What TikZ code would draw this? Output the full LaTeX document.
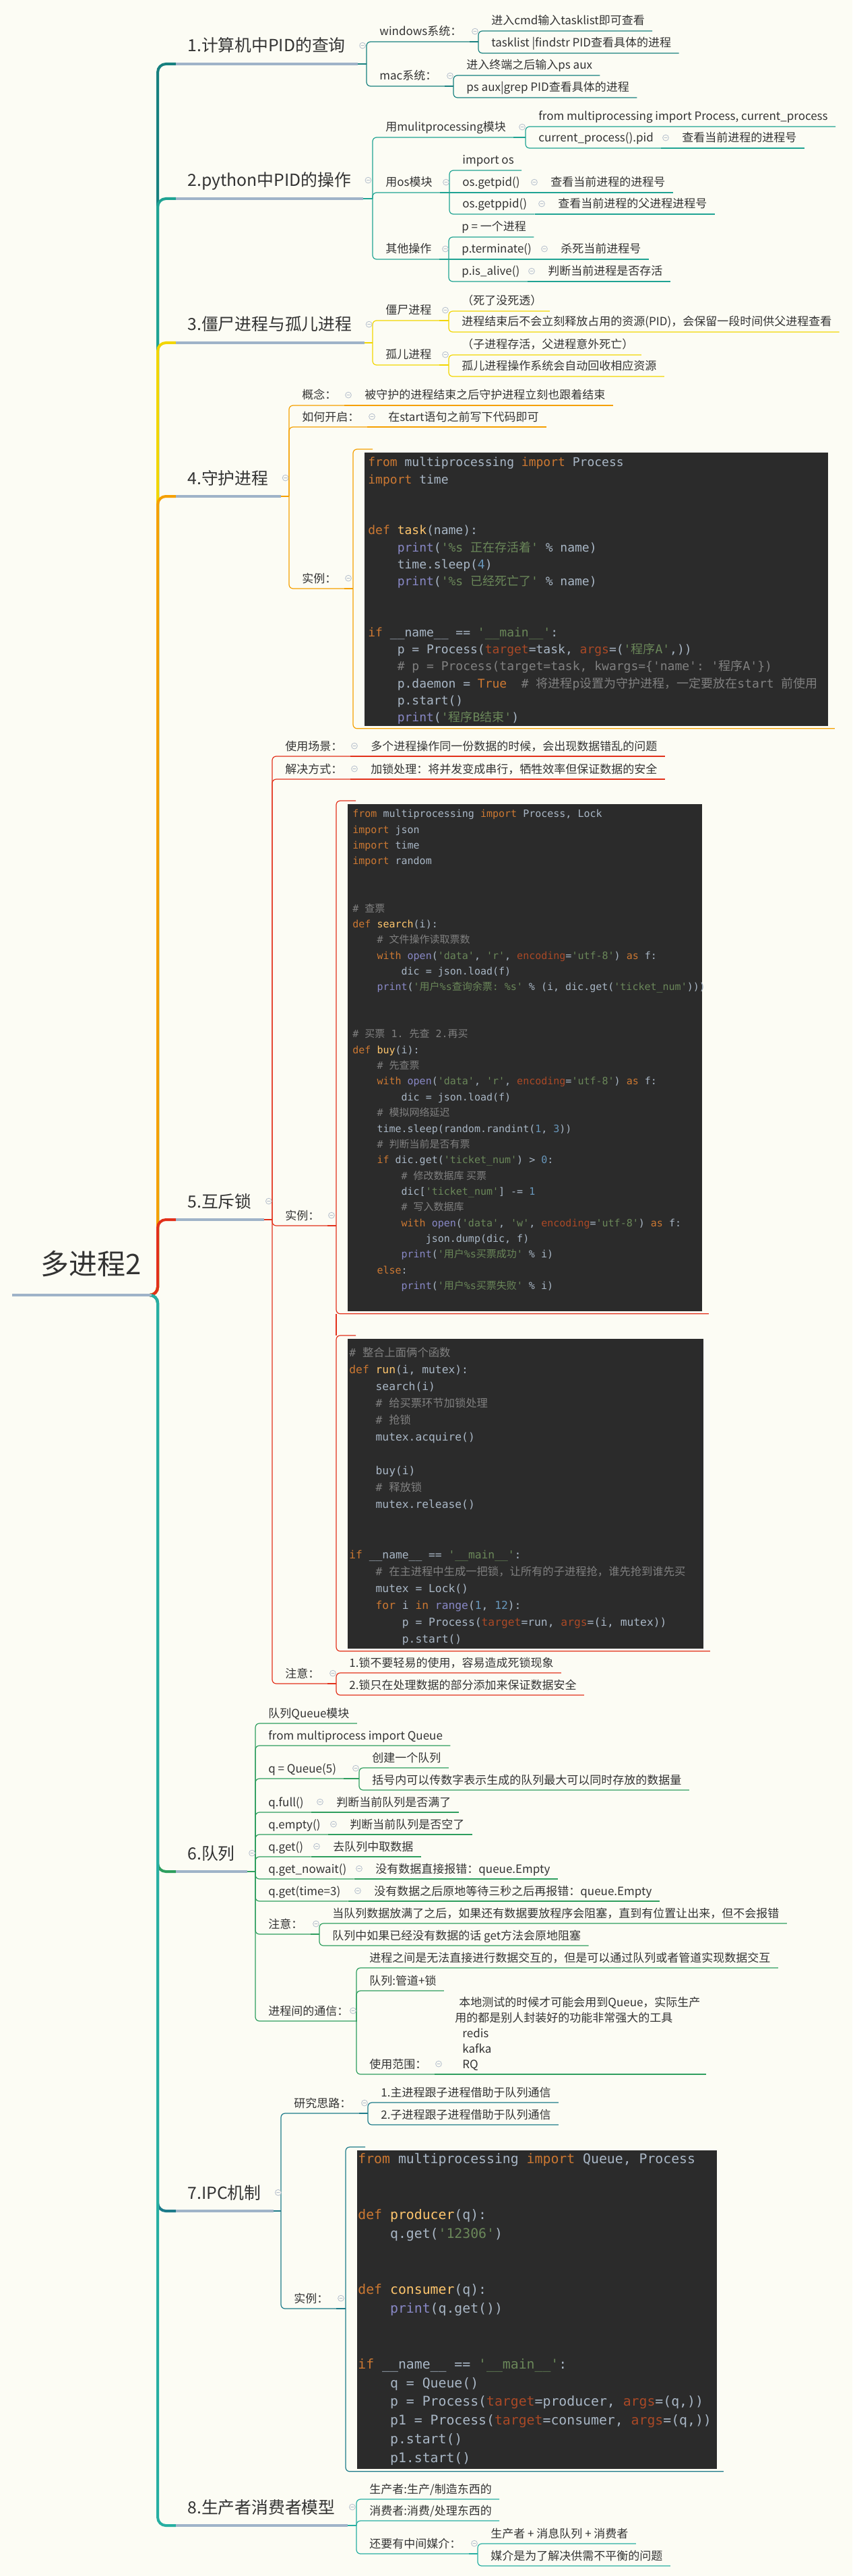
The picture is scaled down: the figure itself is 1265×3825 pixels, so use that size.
\documentclass[tikz,border=0pt]{standalone}
\usepackage{fontspec}
\setmainfont{Noto Sans CJK SC}
\newfontfamily\zhfont{Noto Sans CJK SC}
\newfontfamily\codefont{DejaVu Sans Mono}
\usepackage{xcolor}
\usetikzlibrary{calc}

\definecolor{bgc}{HTML}{FCFCF4}
\definecolor{txtc}{HTML}{333333}
\definecolor{tbarc}{HTML}{9FB3C8}
\definecolor{foldc}{HTML}{B4BECC}
\definecolor{b1c}{HTML}{17807F}
\definecolor{b2c}{HTML}{1FA393}
\definecolor{b3c}{HTML}{F2D600}
\definecolor{b4c}{HTML}{F5A000}
\definecolor{b5c}{HTML}{E2301A}
\definecolor{b6c}{HTML}{2E9E5E}
\definecolor{b7c}{HTML}{1D7B8A}
\definecolor{b8c}{HTML}{27AFA2}
\definecolor{codebgc}{HTML}{2B2B2B}
\definecolor{ctext}{HTML}{A9B7C6}
\definecolor{ckw}{HTML}{CC7832}
\definecolor{cfn}{HTML}{FFC66D}
\definecolor{cstr}{HTML}{6A8759}
\definecolor{cbi}{HTML}{8888C6}
\definecolor{ccm}{HTML}{808080}
\definecolor{ckv}{HTML}{AA4926}
\definecolor{cnum}{HTML}{6897BB}

% code helpers
\newcommand\zh[1]{{\zhfont #1}}
\newcommand\q{\textquotesingle}
\newcommand\indt{\phantom{xxxx}}
\newcommand\cKw[1]{\textcolor{ckw}{#1}}
\newcommand\cFn[1]{\textcolor{cfn}{#1}}
\newcommand\cStr[1]{\textcolor{cstr}{#1}}
\newcommand\cBi[1]{\textcolor{cbi}{#1}}
\newcommand\cCm[1]{\textcolor{ccm}{#1}}
\newcommand\cKv[1]{\textcolor{ckv}{#1}}
\newcommand\cNum[1]{\textcolor{cnum}{#1}}
\newcommand\codeA{\codefont\fontsize{9}{12.63}\selectfont\frenchspacing}
\newcommand\codeB{\codefont\fontsize{7.5}{11.68}\selectfont\frenchspacing}
\newcommand\codeC{\codefont\fontsize{8.15}{12.5}\selectfont\frenchspacing}
\newcommand\codeD{\codefont\fontsize{9.9}{13.87}\selectfont\frenchspacing}

\tikzset{
  rootnode/.style={anchor=south west, inner xsep=0pt, inner ysep=0pt, text=txtc,
    font=\fontsize{21}{25}\selectfont, text height=31pt, text depth=15pt,
    execute at begin node={\hspace*{21pt}}, execute at end node={\hspace*{7.5pt}}},
  topic/.style={anchor=south west, inner xsep=0pt, inner ysep=0pt, text=txtc,
    font=\fontsize{12.4}{14}\selectfont, text height=18.2pt, text depth=8.8pt,
    execute at begin node={\hspace*{8.5pt}}, execute at end node={\hspace*{9pt}}},
  lv/.style={anchor=south west, inner xsep=0pt, inner ysep=0pt, text=txtc,
    font=\fontsize{8.5}{10}\selectfont, text height=10.7pt, text depth=4.3pt,
    execute at begin node={\hspace*{9.5pt}}, execute at end node={\hspace*{5.5pt}}},
  lvm/.style={anchor=south west, inner xsep=4pt, inner ysep=0pt, text=txtc, align=left,
    font=\fontsize{8.5}{11.5}\selectfont, text depth=4.3pt},
  codebg/.style={anchor=north west, fill=codebgc, inner sep=0pt},
  codetxt/.style={anchor=north west, inner sep=0pt, align=left, text=ctext},
  trunk/.style={line width=2pt, rounded corners=6pt},
  tbar/.style={draw=tbarc, line width=1.8pt},
  rootbar/.style={draw=tbarc, line width=2.2pt},
  link/.style={line width=0.6pt},
  foldmark/.style={draw=foldc, fill=bgc, line width=0.4pt}
}

% connectors
\newcommand\joinnode[3]{%
  \draw[link,#1] (#2.south east) -- (#3.south west |- #2.south east);
  \draw[link,#1,rounded corners=3pt] (#3.south west |- #2.south east) -- (#3.south west) -- (#3.south east);}
\newcommand\joinflat[3]{\draw[link,#1] (#2.south east) -- (#3.south east);}
\newcommand\joincode[3]{%
  \draw[link,#1] (#2.south east) -- ($(#3.west |- #2.south east)+(-17,0)$);
  \draw[link,#1,rounded corners=3pt] ($(#3.north west)+(12,-5)$) -- ($(#3.north west)+(-17,-5)$)
    -- ($(#3.south west)+(-17,3)$) -- ($(#3.south east)+(9,3)$);}
\newcommand\foldat[1]{\draw[foldmark] #1 circle[radius=2.2pt] ++(-1.2pt,0) -- ++(2.4pt,0);}
\newcommand\foldon[2]{\foldat{($(#2.south west |- #1.east)+(-5,0)$)}}

\begin{document}
\begin{tikzpicture}[x=0.5pt,y=-0.5pt]
\useasboundingbox (0,0) rectangle (1265,3825);
\fill[bgc] (0,0) rectangle (1265,3825);

\node[rootnode] (root) at (18,1923) {多进程2};

% 1
\node[topic] (t1) at (261,95) {1.计算机中PID的查询};
\node[lv] (win) at (544,62) {windows系统：};
\node[lv] (w1) at (710,46) {进入cmd输入tasklist即可查看};
\node[lv] (w2) at (710,79) {tasklist |findstr PID查看具体的进程};
\node[lv] (mac) at (544,128) {mac系统：};
\node[lv] (m1) at (673,112) {进入终端之后输入ps aux};
\node[lv] (m2) at (673,145) {ps aux|grep PID查看具体的进程};

% 2
\node[topic] (t2) at (261,295) {2.python中PID的操作};
\node[lv] (mp) at (553,204) {用mulitprocessing模块};
\node[lv] (mp1) at (780,188) {from multiprocessing import Process, current\_process};
\node[lv] (mp2) at (780,220) {current\_process().pid};
\node[lv] (mp3) at (993,220) {查看当前进程的进程号};
\node[lv] (os) at (553,286) {用os模块};
\node[lv] (os1) at (667,253) {import os};
\node[lv] (os2) at (667,286) {os.getpid()};
\node[lv] (os2a) at (798,286) {查看当前进程的进程号};
\node[lv] (os3) at (667,318) {os.getppid()};
\node[lv] (os3a) at (809,318) {查看当前进程的父进程进程号};
\node[lv] (ot) at (553,385) {其他操作};
\node[lv] (ot1) at (666,352) {p = 一个进程};
\node[lv] (ot2) at (666,385) {p.terminate()};
\node[lv] (ot2a) at (813,385) {杀死当前进程号};
\node[lv] (ot3) at (666,418) {p.is\_alive()};
\node[lv] (ot3a) at (794,418) {判断当前进程是否存活};

% 3
\node[topic] (t3) at (261,509) {3.僵尸进程与孤儿进程};
\node[lv] (js) at (553,476) {僵尸进程};
\node[lv] (js1) at (666,462) {（死了没死透）};
\node[lv] (js2) at (666,493) {进程结束后不会立刻释放占用的资源(PID)，会保留一段时间供父进程查看};
\node[lv] (ge) at (553,542) {孤儿进程};
\node[lv] (ge1) at (666,527) {（子进程存活，父进程意外死亡）};
\node[lv] (ge2) at (666,559) {孤儿进程操作系统会自动回收相应资源};

% 4
\node[topic] (t4) at (261,737) {4.守护进程};
\node[lv] (gn) at (429,602) {概念：};
\node[lv] (gn1) at (522,602) {被守护的进程结束之后守护进程立刻也跟着结束};
\node[lv] (kq) at (429,634) {如何开启：};
\node[lv] (kq1) at (557,634) {在start语句之前写下代码即可};
\node[lv] (sl4) at (429,874) {实例：};
\node[codebg, minimum width=344pt, minimum height=203pt] (img1) at (541,672) {};
\node[codetxt, font=\codeA] (code1) at (546,674.7) {\strut\cKw{from} multiprocessing \cKw{import} Process\\
\cKw{import} time\\ ~\\ ~\\
\cKw{def} \cFn{task}(name):\\
\indt\cBi{print}(\cStr{\q\%s \zh{正在存活着}\q} \% name)\\
\indt time.sleep(\cNum{4})\\
\indt\cBi{print}(\cStr{\q\%s \zh{已经死亡了}\q} \% name)\\ ~\\ ~\\
\cKw{if} \_\_name\_\_ == \cStr{\q\_\_main\_\_\q}:\\
\indt p = Process(\cKv{target}=task, \cKv{args}=(\cStr{\q\zh{程序}A\q},))\\
\indt\cCm{\# p = Process(target=task, kwargs=\{\q name\q: \q\zh{程序}A\q\})}\\
\indt p.daemon = \cKw{True}\ \ \cCm{\# \zh{将进程}p\zh{设置为守护进程，一定要放在}start \zh{前使用}}\\
\indt p.start()\\
\indt\cBi{print}(\cStr{\q\zh{程序}B\zh{结束}\q})};

% 5
\node[topic] (t5) at (261,1811) {5.互斥锁};
\node[lv] (cj) at (404,1123) {使用场景：};
\node[lv] (cj1) at (531,1123) {多个进程操作同一份数据的时候，会出现数据错乱的问题};
\node[lv] (jj) at (404,1157) {解决方式：};
\node[lv] (jj1) at (531,1157) {加锁处理：将并发变成串行，牺牲效率但保证数据的安全};
\node[lv] (sl5) at (404,1820) {实例：};
\node[codebg, minimum width=263pt, minimum height=376.5pt] (img2) at (516,1194) {};
\node[codetxt, font=\codeB] (code2) at (523,1197.1) {\strut\cKw{from} multiprocessing \cKw{import} Process, Lock\\
\cKw{import} json\\
\cKw{import} time\\
\cKw{import} random\\ ~\\ ~\\
\cCm{\# \zh{查票}}\\
\cKw{def} \cFn{search}(i):\\
\indt\cCm{\# \zh{文件操作读取票数}}\\
\indt\cKw{with} \cBi{open}(\cStr{\q data\q}, \cStr{\q r\q}, \cKv{encoding}=\cStr{\q utf-8\q}) \cKw{as} f:\\
\indt\indt dic = json.load(f)\\
\indt\cBi{print}(\cStr{\q\zh{用户}\%s\zh{查询余票}: \%s\q} \% (i, dic.get(\cStr{\q ticket\_num\q})))\\ ~\\ ~\\
\cCm{\# \zh{买票} 1. \zh{先查} 2.\zh{再买}}\\
\cKw{def} \cFn{buy}(i):\\
\indt\cCm{\# \zh{先查票}}\\
\indt\cKw{with} \cBi{open}(\cStr{\q data\q}, \cStr{\q r\q}, \cKv{encoding}=\cStr{\q utf-8\q}) \cKw{as} f:\\
\indt\indt dic = json.load(f)\\
\indt\cCm{\# \zh{模拟网络延迟}}\\
\indt time.sleep(random.randint(\cNum{1}, \cNum{3}))\\
\indt\cCm{\# \zh{判断当前是否有票}}\\
\indt\cKw{if} dic.get(\cStr{\q ticket\_num\q}) > \cNum{0}:\\
\indt\indt\cCm{\# \zh{修改数据库 买票}}\\
\indt\indt dic[\cStr{\q ticket\_num\q}] -= \cNum{1}\\
\indt\indt\cCm{\# \zh{写入数据库}}\\
\indt\indt\cKw{with} \cBi{open}(\cStr{\q data\q}, \cStr{\q w\q}, \cKv{encoding}=\cStr{\q utf-8\q}) \cKw{as} f:\\
\indt\indt\indt json.dump(dic, f)\\
\indt\indt\cBi{print}(\cStr{\q\zh{用户}\%s\zh{买票成功}\q} \% i)\\
\indt\cKw{else}:\\
\indt\indt\cBi{print}(\cStr{\q\zh{用户}\%s\zh{买票失败}\q} \% i)\\ ~};
\node[codebg, minimum width=264pt, minimum height=230pt] (img3) at (516,1988) {};
\node[codetxt, font=\codeC] (code3) at (518,1996.4) {\strut\cCm{\# \zh{整合上面俩个函数}}\\
\cKw{def} \cFn{run}(i, mutex):\\
\indt search(i)\\
\indt\cCm{\# \zh{给买票环节加锁处理}}\\
\indt\cCm{\# \zh{抢锁}}\\
\indt mutex.acquire()\\ ~\\
\indt buy(i)\\
\indt\cCm{\# \zh{释放锁}}\\
\indt mutex.release()\\ ~\\ ~\\
\cKw{if} \_\_name\_\_ == \cStr{\q\_\_main\_\_\q}:\\
\indt\cCm{\# \zh{在主进程中生成一把锁，让所有的子进程抢，谁先抢到谁先买}}\\
\indt mutex = Lock()\\
\indt\cKw{for} i \cKw{in} \cBi{range}(\cNum{1}, \cNum{12}):\\
\indt\indt p = Process(\cKv{target}=run, \cKv{args}=(i, mutex))\\
\indt\indt p.start()};
\node[lv] (zy5) at (404,2500) {注意：};
\node[lv] (zy51) at (499,2484) {1.锁不要轻易的使用，容易造成死锁现象};
\node[lv] (zy52) at (499,2517) {2.锁只在处理数据的部分添加来保证数据安全};

% 6
\node[topic] (t6) at (261,2779) {6.队列};
\node[lv] (qm) at (379,2559) {队列Queue模块};
\node[lv] (qi) at (379,2592) {from multiprocess import Queue};
\node[lv] (qq) at (379,2641) {q = Queue(5)};
\node[lv] (qq1) at (533,2625) {创建一个队列};
\node[lv] (qq2) at (533,2658) {括号内可以传数字表示生成的队列最大可以同时存放的数据量};
\node[lv] (qf) at (379,2691) {q.full()};
\node[lv] (qf1) at (480,2691) {判断当前队列是否满了};
\node[lv] (qe) at (379,2724) {q.empty()};
\node[lv] (qe1) at (500,2724) {判断当前队列是否空了};
\node[lv] (qg) at (379,2757) {q.get()};
\node[lv] (qg1) at (475,2757) {去队列中取数据};
\node[lv] (qn) at (379,2790) {q.get\_nowait()};
\node[lv] (qn1) at (538,2790) {没有数据直接报错：queue.Empty};
\node[lv] (qt) at (379,2823) {q.get(time=3)};
\node[lv] (qt1) at (536,2823) {没有数据之后原地等待三秒之后再报错：queue.Empty};
\node[lv] (zy6) at (379,2872) {注意：};
\node[lv] (zy61) at (474,2856) {当队列数据放满了之后，如果还有数据要放程序会阻塞，直到有位置让出来，但不会报错};
\node[lv] (zy62) at (474,2889) {队列中如果已经没有数据的话 get方法会原地阻塞};
\node[lv] (tx) at (379,3001) {进程间的通信：};
\node[lv] (tx1) at (529,2922) {进程之间是无法直接进行数据交互的，但是可以通过队列或者管道实现数据交互};
\node[lv] (tx2) at (529,2956) {队列:管道+锁};
\node[lv] (tx3) at (529,3080) {使用范围：};
\node[lvm] (tx3a) at (667,3080) {\hspace*{3pt}本地测试的时候才可能会用到Queue，实际生产\\
用的都是别人封装好的功能非常强大的工具\\
\hspace*{5.5pt}redis\\
\hspace*{5.5pt}kafka\\
\hspace*{5.5pt}RQ};

% 7
\node[topic] (t7) at (261,3283) {7.IPC机制};
\node[lv] (yj) at (417,3138) {研究思路：};
\node[lv] (yj1) at (546,3122) {1.主进程跟子进程借助于队列通信};
\node[lv] (yj2) at (546,3155) {2.子进程跟子进程借助于队列通信};
\node[lv] (sl7) at (417,3428) {实例：};
\node[codebg, minimum width=267pt, minimum height=236.5pt] (img4) at (530,3193) {};
\node[codetxt, font=\codeD] (code4) at (531,3192.5) {\strut\cKw{from} multiprocessing \cKw{import} Queue, Process\\ ~\\ ~\\
\cKw{def} \cFn{producer}(q):\\
\indt q.get(\cStr{\q 12306\q})\\ ~\\ ~\\
\cKw{def} \cFn{consumer}(q):\\
\indt\cBi{print}(q.get())\\ ~\\ ~\\
\cKw{if} \_\_name\_\_ == \cStr{\q\_\_main\_\_\q}:\\
\indt q = Queue()\\
\indt p = Process(\cKv{target}=producer, \cKv{args}=(q,))\\
\indt p1 = Process(\cKv{target}=consumer, \cKv{args}=(q,))\\
\indt p.start()\\
\indt p1.start()};

% 8
\node[topic] (t8) at (261,3750) {8.生产者消费者模型};
\node[lv] (sc) at (529,3711) {生产者:生产/制造东西的};
\node[lv] (xf) at (529,3743) {消费者:消费/处理东西的};
\node[lv] (mj) at (529,3792) {还要有中间媒介：};
\node[lv] (mj1) at (709,3777) {生产者 + 消息队列 + 消费者};
\node[lv] (mj2) at (709,3810) {媒介是为了解决供需不平衡的问题};

% trunk from the root to every topic
\draw[trunk,b1c] (root.south east) -- ++(9,0) |- (t1.south west);
\draw[trunk,b2c] (root.south east) -- ++(9,0) |- (t2.south west);
\draw[trunk,b3c] (root.south east) -- ++(9,0) |- (t3.south west);
\draw[trunk,b4c] (root.south east) -- ++(9,0) |- (t4.south west);
\draw[trunk,b5c] (root.south east) -- ++(9,0) |- (t5.south west);
\draw[trunk,b6c] (root.south east) -- ++(9,0) |- (t6.south west);
\draw[trunk,b7c] (root.south east) -- ++(9,0) |- (t7.south west);
\draw[trunk,b8c] (root.south east) -- ++(9,0) |- (t8.south west);
\draw[rootbar] (root.south west) -- (root.south east);
\draw[tbar] (t1.south west) -- (t1.south east);
\draw[tbar] (t2.south west) -- (t2.south east);
\draw[tbar] (t3.south west) -- (t3.south east);
\draw[tbar] (t4.south west) -- (t4.south east);
\draw[tbar] (t5.south west) -- (t5.south east);
\draw[tbar] (t6.south west) -- (t6.south east);
\draw[tbar] (t7.south west) -- (t7.south east);
\draw[tbar] (t8.south west) -- (t8.south east);

% branch 1
\joinnode{b1c}{t1}{win} \joinnode{b1c}{t1}{mac}
\joinnode{b1c}{win}{w1} \joinnode{b1c}{win}{w2}
\joinnode{b1c}{mac}{m1} \joinnode{b1c}{mac}{m2}
% branch 2
\joinnode{b2c}{t2}{mp} \joinnode{b2c}{t2}{os} \joinnode{b2c}{t2}{ot}
\joinnode{b2c}{mp}{mp1} \joinnode{b2c}{mp}{mp2} \joinflat{b2c}{mp2}{mp3}
\joinnode{b2c}{os}{os1} \joinflat{b2c}{os}{os2} \joinnode{b2c}{os}{os3}
\joinflat{b2c}{os2}{os2a} \joinflat{b2c}{os3}{os3a}
\joinnode{b2c}{ot}{ot1} \joinflat{b2c}{ot}{ot2} \joinnode{b2c}{ot}{ot3}
\joinflat{b2c}{ot2}{ot2a} \joinflat{b2c}{ot3}{ot3a}
% branch 3
\joinnode{b3c}{t3}{js} \joinnode{b3c}{t3}{ge}
\joinnode{b3c}{js}{js1} \joinnode{b3c}{js}{js2}
\joinnode{b3c}{ge}{ge1} \joinnode{b3c}{ge}{ge2}
% branch 4
\joinnode{b4c}{t4}{gn} \joinnode{b4c}{t4}{kq} \joinnode{b4c}{t4}{sl4}
\joinflat{b4c}{gn}{gn1} \joinflat{b4c}{kq}{kq1}
\joincode{b4c}{sl4}{img1}
% branch 5
\joinnode{b5c}{t5}{cj} \joinnode{b5c}{t5}{jj} \joinnode{b5c}{t5}{sl5} \joinnode{b5c}{t5}{zy5}
\joinflat{b5c}{cj}{cj1} \joinflat{b5c}{jj}{jj1}
\joincode{b5c}{sl5}{img2} \joincode{b5c}{sl5}{img3}
\draw[link,b5c] ($(img2.south west)+(-17,3)$) -- ($(img3.north west)+(-17,-5)$);
\joinnode{b5c}{zy5}{zy51} \joinnode{b5c}{zy5}{zy52}
% branch 6
\joinnode{b6c}{t6}{qm} \joinnode{b6c}{t6}{qi} \joinnode{b6c}{t6}{qq}
\joinnode{b6c}{t6}{qf} \joinnode{b6c}{t6}{qe} \joinnode{b6c}{t6}{qg}
\joinnode{b6c}{t6}{qn} \joinnode{b6c}{t6}{qt} \joinnode{b6c}{t6}{zy6} \joinnode{b6c}{t6}{tx}
\joinnode{b6c}{qq}{qq1} \joinnode{b6c}{qq}{qq2}
\joinflat{b6c}{qf}{qf1} \joinflat{b6c}{qe}{qe1} \joinflat{b6c}{qg}{qg1}
\joinflat{b6c}{qn}{qn1} \joinflat{b6c}{qt}{qt1}
\joinnode{b6c}{zy6}{zy61} \joinnode{b6c}{zy6}{zy62}
\joinnode{b6c}{tx}{tx1} \joinnode{b6c}{tx}{tx2} \joinnode{b6c}{tx}{tx3}
\joinflat{b6c}{tx3}{tx3a}
% branch 7
\joinnode{b7c}{t7}{yj} \joinnode{b7c}{t7}{sl7}
\joinnode{b7c}{yj}{yj1} \joinnode{b7c}{yj}{yj2}
\joincode{b7c}{sl7}{img4}
% branch 8
\joinnode{b8c}{t8}{sc} \joinnode{b8c}{t8}{xf} \joinnode{b8c}{t8}{mj}
\joinnode{b8c}{mj}{mj1} \joinnode{b8c}{mj}{mj2}

% fold marks
\foldat{([xshift=3.5pt]t1.east)} \foldat{([xshift=3.5pt]t2.east)}
\foldat{([xshift=3.5pt]t3.east)} \foldat{([xshift=3.5pt]t4.east)}
\foldat{([xshift=3.5pt]t5.east)} \foldat{([xshift=3.5pt]t6.east)}
\foldat{([xshift=3.5pt]t7.east)} \foldat{([xshift=3.5pt]t8.east)}
\foldon{win}{w1} \foldon{mac}{m1}
\foldon{mp}{mp1} \foldon{mp2}{mp3} \foldon{os}{os1} \foldon{os2}{os2a}
\foldon{os3}{os3a} \foldon{ot}{ot1} \foldon{ot2}{ot2a} \foldon{ot3}{ot3a}
\foldon{js}{js1} \foldon{ge}{ge1}
\foldon{gn}{gn1} \foldon{kq}{kq1}
\foldat{($(img1.west |- sl4.east)+(-24,0)$)}
\foldon{cj}{cj1} \foldon{jj}{jj1} \foldon{zy5}{zy51}
\foldat{($(img2.west |- sl5.east)+(-24,0)$)}
\foldon{qq}{qq1} \foldon{qf}{qf1} \foldon{qe}{qe1} \foldon{qg}{qg1}
\foldon{qn}{qn1} \foldon{qt}{qt1} \foldon{zy6}{zy61} \foldon{tx}{tx1}
\foldat{($(tx3a.south west |- tx3.east)+(-16,0)$)}
\foldon{yj}{yj1}
\foldat{($(img4.west |- sl7.east)+(-24,0)$)}
\foldon{mj}{mj1}
\end{tikzpicture}
\end{document}
